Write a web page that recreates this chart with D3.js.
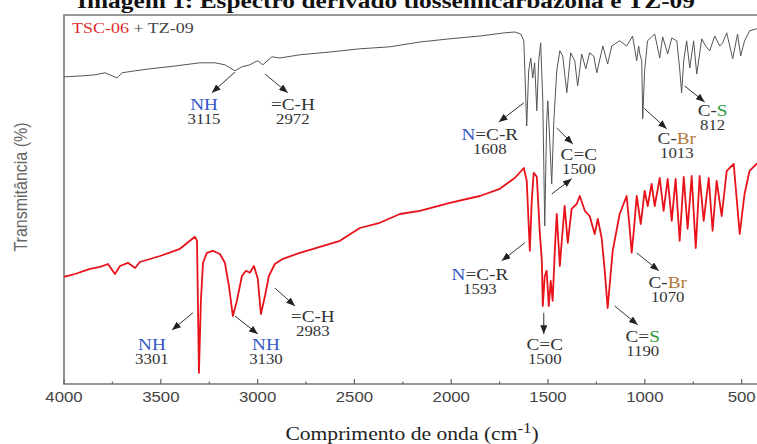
<!DOCTYPE html>
<html>
<head>
<meta charset="utf-8">
<script src="https://cdn.jsdelivr.net/npm/d3@7"></script>
<style>
body{margin:0;background:#fff;}
svg{display:block;}
</style>
</head>
<body>
<div id="chart"></div>
<script>
// [wavenumber cm-1, transmittance]
const tz09 = [
[4000,76.8],[3917,77],[3840,77.3],[3788,77.8],[3763,77.3],[3726,76.5],[3701,77.8],[3633,78.3],
[3556,78.8],[3427,79.5],[3298,80.3],[3220,80.3],[3169,79.8],[3117,78.3],[3081,79.3],[3040,79.8],
[3014,80.5],[2999,80.8],[2973,79.8],[2926,81.8],[2885,81.5],[2782,82.3],[2627,83],[2472,83.8],
[2317,84.3],[2162,85.5],[2007,86.3],[1852,87],[1723,87.8],[1672,88],[1641,87.5],[1625,85.8],
[1610,64.5],[1600,78.3],[1589,81.5],[1579,76.5],[1569,80.3],[1558,68.3],[1548,80.8],[1538,85.3],
[1527,70.8],[1517,39.5],[1507,65.8],[1501,70.8],[1491,60.8],[1481,50],[1470,65.8],[1455,78.3],
[1439,83.3],[1424,82],[1403,72.8],[1383,82.8],[1362,80.8],[1347,74.5],[1326,82.5],[1305,78.8],
[1285,82.8],[1264,82],[1248,77.8],[1217,84.5],[1192,80],[1171,84.5],[1130,85.8],[1094,84.5],
[1063,87],[1042,80.8],[1032,84.5],[1026,82.5],[1016,80.8],[1011,66.3],[1001,78.3],[986,85.8],
[949,87.5],[923,81.5],[908,86.8],[882,82.5],[861,86.5],[835,85.8],[820,78.8],[810,72.8],
[799,80.8],[784,85.8],[768,79],[748,85.8],[732,77.5],[706,86.3],[686,84.5],[665,83.3],
[639,87],[613,84.5],[598,85.3],[577,87.8],[546,81.3],[521,87.5],[505,82],[485,85.8],
[459,88.3],[423,88.8],[400,88.3]
];

const tsc06 = [
[4000,26.8],[3943,27.5],[3866,28.8],[3814,29.3],[3773,30],[3737,27.5],[3711,29.5],[3670,30.3],
[3633,29],[3608,30.5],[3504,32],[3401,33.8],[3324,36.8],[3313,35.8],[3303,2.8],[3293,20.8],
[3282,30.3],[3262,32.8],[3231,33.3],[3195,32.5],[3169,30.3],[3148,24.5],[3128,17],[3107,20.8],
[3081,27],[3060,28.3],[3040,27.8],[3019,29.5],[2999,26.3],[2983,17.5],[2962,22],[2942,27],
[2911,30],[2869,31.3],[2782,32.8],[2678,34.3],[2575,35.8],[2472,39],[2369,40.3],[2265,42.5],
[2162,43.3],[2007,45.3],[1852,47],[1749,48.8],[1672,51.5],[1625,54],[1610,50.8],[1594,33.3],
[1584,45.8],[1574,52.8],[1558,51.8],[1543,38.3],[1532,30.8],[1527,19.5],[1517,27],[1507,28.3],
[1496,19.5],[1486,25.8],[1476,20.8],[1465,33.3],[1455,42.5],[1439,29.5],[1429,35.8],[1414,44.5],
[1398,35.3],[1378,43.8],[1352,45],[1336,47],[1310,43.3],[1285,42],[1259,37.5],[1243,41.3],
[1223,36.5],[1207,28.3],[1192,19],[1166,33.3],[1130,42.5],[1094,47],[1078,38.8],[1068,32.8],
[1057,38.3],[1042,47],[1021,40],[1001,48.3],[985,44.5],[965,50],[949,44.5],[923,51.5],
[903,43.3],[882,51.3],[861,40.8],[841,51.3],[820,35.8],[799,51.8],[779,38.8],[758,52],
[737,34],[717,52],[696,40.8],[670,51.5],[650,38.3],[629,50.8],[603,42],[577,53.3],
[541,55],[510,37.5],[485,47.5],[459,53.3],[423,55],[400,55.8]
];

const majorTicks = [4000,3500,3000,2500,2000,1500,1000,500];
const minorTicks = [3750,3250,2750,2250,1750,1250,750];

const blue = "#3556c8", dark = "#333", brown = "#b07a3a", green = "#2f9a3a";

// band labels: text parts, band number, arrow from -> to, label position
const tz09Peaks = [
  {parts:[["NH",blue]], num:"3115", from:[3117,78], to:[3236,72.8], at:[3277,68.5]},
  {parts:[["=C-H",dark]], num:"2972", from:[2962,77.5], to:[2844,72.8], at:[2818,68.5]},
  {parts:[["N",blue],["=C-R",dark]], num:"1608", from:[1625,70.3], to:[1754,65.5], at:[1801,61]},
  {parts:[["C=C",dark]], num:"1500", from:[1455,64], to:[1372,60], at:[1341,56]},
  {parts:[["C-",dark],["Br",brown]], num:"1013", from:[1001,68.8], to:[887,63.8], at:[835,60]},
  {parts:[["C-",dark],["S",green]], num:"812", from:[794,74.5], to:[691,70.5], at:[650,67]}
];
const extraArrows = [{from:[1481,47.5], to:[1378,51.3]}];

const tsc06Peaks = [
  {parts:[["NH",blue]], num:"3301", from:[3334,17.8], to:[3442,13.5], at:[3546,8.5]},
  {parts:[["NH",blue]], num:"3130", from:[3117,17], to:[2999,12.5], at:[2957,8.5]},
  {parts:[["=C-H",dark]], num:"2983", from:[2911,24], to:[2807,19.5], at:[2715,15.5]},
  {parts:[["N",blue],["=C-R",dark]], num:"1593", from:[1620,35.3], to:[1739,30.8], at:[1852,26]},
  {parts:[["C=C",dark]], num:"1500", from:[1522,17.8], to:[1522,12.5], at:[1517,8.5]},
  {parts:[["C-",dark],["Br",brown]], num:"1070", from:[1042,32.8], to:[928,28.3], at:[882,24]},
  {parts:[["C=",dark],["S",green]], num:"1190", from:[1156,19.5], to:[1037,14.8], at:[1011,10.5]}
];

const width = 757, height = 444;
const margin = {top: 15, bottom: 60, left: 64};
const serif = "'Liberation Serif','Times New Roman',serif";
const sans = "'Liberation Sans',Arial,sans-serif";
const sx = 1.2; // source picture is stretched sideways

const svg = d3.select("#chart").append("svg")
  .attr("width", width).attr("height", height);

const xScale = d3.scaleLinear().domain([4000, 400]).range([margin.left, 761]);
const yScale = d3.scaleLinear().domain([0, 92]).range([height - margin.bottom, margin.top + 1]);

const defs = svg.append("defs");
defs.append("marker")
  .attr("id", "head")
  .attr("viewBox", "0 0 10 8")
  .attr("refX", 10).attr("refY", 4)
  .attr("markerUnits", "userSpaceOnUse")
  .attr("markerWidth", 9).attr("markerHeight", 7)
  .attr("orient", "auto")
  .append("path").attr("d", "M0,0L10,4L0,8z").attr("fill", "#222");

defs.append("clipPath").attr("id", "plot")
  .append("rect").attr("x", margin.left).attr("y", margin.top)
  .attr("width", width - margin.left).attr("height", height - margin.bottom - margin.top);

// title (cut at the top in the source)
svg.append("text")
  .attr("x", 77).attr("y", 8)
  .attr("textLength", 618).attr("lengthAdjust", "spacingAndGlyphs")
  .style("font-family", serif).style("font-size", "20px").style("font-weight", "bold")
  .attr("fill", "#111")
  .text("Imagem 1: Espectro derivado tiossemicarbazona e TZ-09");

// frame
const yb = yScale(0);
svg.append("path")
  .attr("d", `M${width},${margin.top}H${margin.left}V${yb}H${width}`)
  .attr("fill", "none").attr("stroke", "#777").attr("stroke-width", 1.6);

// x axis ticks, pointing inward
svg.append("g").selectAll("line.major").data(majorTicks).join("line")
  .attr("x1", d => xScale(d)).attr("x2", d => xScale(d))
  .attr("y1", yb).attr("y2", yb - 5)
  .attr("stroke", "#666").attr("stroke-width", 1.2);
svg.append("g").selectAll("line.minor").data(minorTicks).join("line")
  .attr("x1", d => xScale(d)).attr("x2", d => xScale(d))
  .attr("y1", yb).attr("y2", yb - 2.5)
  .attr("stroke", "#666").attr("stroke-width", 1.2);
svg.append("g").selectAll("text").data(majorTicks).join("text")
  .attr("transform", d => `translate(${xScale(d)},${yb + 18}) scale(${sx},1)`)
  .attr("text-anchor", "middle")
  .style("font-family", sans).style("font-size", "14px")
  .attr("fill", "#444")
  .text(d => d);

// axis titles
const xl = svg.append("text")
  .attr("transform", `translate(412,${height - 4}) scale(${sx},1)`)
  .attr("text-anchor", "middle")
  .style("font-family", serif).style("font-size", "18px")
  .attr("fill", "#222");
xl.append("tspan").text("Comprimento de onda (cm");
xl.append("tspan").attr("dy", -7).style("font-size", "14px").text("-1");
xl.append("tspan").attr("dy", 7).text(")");

svg.append("text")
  .attr("transform", `translate(27,187) scale(${sx},1) rotate(-90)`)
  .attr("text-anchor", "middle")
  .style("font-family", sans).style("font-size", "16px")
  .attr("fill", "#666")
  .text("Transmitância (%)");

// legend
const lg = svg.append("text")
  .attr("transform", `translate(72,33) scale(${sx},1)`)
  .style("font-family", serif).style("font-size", "15px");
lg.append("tspan").attr("fill", "#e32b2b").text("TSC-06");
lg.append("tspan").attr("fill", "#444").text(" + TZ-09");

// spectra
const line = d3.line().x(d => xScale(d[0])).y(d => yScale(d[1]));
const plot = svg.append("g").attr("clip-path", "url(#plot)");
plot.append("path").datum(tsc06)
  .attr("d", line).attr("fill", "none")
  .attr("stroke", "#e8121a").attr("stroke-width", 1.8).attr("stroke-linejoin", "round");
plot.append("path").datum(tz09)
  .attr("d", line).attr("fill", "none")
  .attr("stroke", "#555").attr("stroke-width", 1).attr("stroke-linejoin", "round");

// annotations
const allPeaks = tz09Peaks.concat(tsc06Peaks);
svg.append("g").selectAll("line").data(allPeaks.concat(extraArrows)).join("line")
  .attr("x1", d => xScale(d.from[0])).attr("y1", d => yScale(d.from[1]))
  .attr("x2", d => xScale(d.to[0])).attr("y2", d => yScale(d.to[1]))
  .attr("stroke", "#333").attr("stroke-width", 1)
  .attr("marker-end", "url(#head)");

allPeaks.forEach(p => {
  const cx = xScale(p.at[0]), cy = yScale(p.at[1]);
  const t = svg.append("text")
    .attr("transform", `translate(${cx},${cy}) scale(${sx},1)`)
    .attr("text-anchor", "middle")
    .style("font-family", serif).style("font-size", "16px");
  p.parts.forEach(q => t.append("tspan").attr("fill", q[1]).text(q[0]));
  svg.append("text")
    .attr("transform", `translate(${cx},${cy + 14}) scale(${sx},1)`)
    .attr("text-anchor", "middle")
    .style("font-family", serif).style("font-size", "14px")
    .attr("fill", "#333")
    .text(p.num);
});
</script>
</body>
</html>
